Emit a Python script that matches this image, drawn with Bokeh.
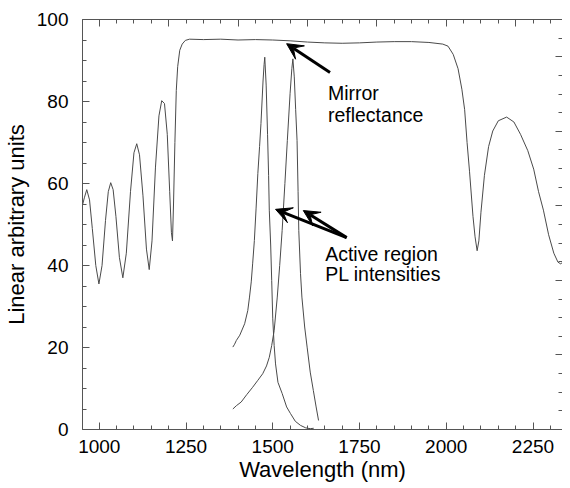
from bokeh.plotting import figure
from bokeh.models import (Range1d, LinearAxis, FixedTicker, Label, Arrow, VeeHead,
                          CustomJSTickFormatter)
from bokeh.embed import file_html
from bokeh.resources import INLINE

# ---- data ----
mirror_nm = [951, 957, 964, 972, 980, 990, 999, 1008, 1018, 1026, 1033, 1040, 1048, 1058,
             1068, 1078, 1090, 1100, 1108, 1116, 1126, 1136, 1144, 1152, 1162, 1172, 1180,
             1188, 1196, 1203, 1208, 1211, 1214, 1218, 1222, 1226, 1232, 1239, 1248, 1260,
             1300, 1350, 1400, 1450, 1500, 1550, 1600, 1650, 1700, 1750, 1800, 1850, 1900,
             1950, 1990, 2005, 2020, 2034, 2045, 2053, 2060, 2067, 2077, 2083, 2089, 2094,
             2100, 2110, 2122, 2134, 2150, 2174, 2195, 2214, 2235, 2252, 2266, 2280, 2295,
             2310, 2322, 2330, 2338, 2346]
mirror_refl = [54.5, 56.5, 58.5, 56.0, 49.0, 40.0, 35.5, 40.0, 51.0, 58.0, 60.2, 58.5, 52.0, 42.0,
               37.0, 43.0, 58.0, 67.5, 69.7, 67.0, 57.0, 44.0, 39.0, 46.0, 64.0, 76.5, 80.2,
               79.5, 72.0, 58.0, 48.0, 46.0, 55.0, 70.0, 82.7, 88.5, 92.5, 94.0, 94.9, 95.2,
               95.1, 95.2, 95.0, 95.1, 95.0, 94.8, 94.5, 94.3, 94.2, 94.3, 94.5, 94.6, 94.6,
               94.4, 94.0, 93.5, 91.5, 88.0, 83.0, 78.0, 70.0, 63.0, 52.0, 47.0, 43.6, 46.0,
               53.0, 62.0, 69.0, 72.8, 75.3, 76.2, 75.0, 72.0, 68.0, 63.5, 58.0, 53.5, 47.5,
               43.0, 40.8, 40.4, 41.0, 42.0]

pl1_nm = [1385, 1390, 1395, 1405, 1419, 1428, 1433, 1438, 1442, 1447, 1452, 1457, 1462, 1466,
          1472, 1475, 1477, 1481, 1485, 1488, 1490, 1494, 1497, 1500, 1504, 1508, 1515, 1527,
          1540, 1551, 1565, 1580, 1595, 1608, 1618]
pl1_val = [20.1, 20.8, 21.7, 23.0, 25.8, 29.0, 32.3, 36.0, 40.4, 46.1, 54.0, 62.4, 69.0, 74.6,
           85.0, 89.0, 90.8, 84.0, 72.0, 62.0, 53.5, 45.0, 36.3, 27.0, 20.5, 16.0, 11.5, 8.8,
           5.5, 3.9, 2.0, 1.0, 0.4, 0.2, 0.3]

pl2_nm = [1385, 1395, 1409, 1425, 1442, 1457, 1471, 1482, 1490, 1497, 1504, 1513, 1520, 1527,
          1535, 1542, 1550, 1555, 1558, 1562, 1566, 1570, 1573, 1575, 1580, 1584, 1592, 1599,
          1608, 1617, 1625, 1632]
pl2_val = [5.0, 5.8, 6.7, 8.5, 10.3, 12.0, 13.6, 15.5, 17.6, 20.5, 24.1, 32.3, 40.0, 48.5,
           60.0, 70.5, 82.0, 88.0, 90.4, 86.0, 78.0, 70.5, 58.0, 48.5, 38.0, 32.3, 25.0, 20.1,
           14.0, 9.5, 5.5, 2.2]

bottom_ticks = [1000, 1250, 1500, 1750, 2000, 2250]
bottom_minor = list(range(950, 2351, 50))
top_ticks = [1000, 1200, 1400, 1600, 1800, 2000, 2200]
top_minor = list(range(950, 2351, 50))
left_ticks = [0, 20, 40, 60, 80, 100]
left_minor = list(range(0, 101, 5))
right_ticks = [0.0, 0.2, 0.4, 0.6, 0.8, 1.0]
right_minor = [i * 0.05 for i in range(0, 23)]

FONT = "Liberation Sans"
AX = "#555555"
LINE = "#4a4a4a"

p = figure(width=562, height=488, output_backend="svg", toolbar_location=None,
           x_range=Range1d(951.7, 2335), y_range=Range1d(0, 100),
           min_border_left=71, min_border_top=19, min_border_bottom=59, min_border_right=0,
           x_axis_label="Wavelength (nm)", y_axis_label="Linear arbitrary units")
p.extra_y_ranges = {"right": Range1d(0, 1.1)}
p.grid.visible = False
p.outline_line_color = None
p.background_fill_color = "white"
p.border_fill_color = "white"


def style(ax, major, minor):
    ax.ticker = FixedTicker(ticks=major, minor_ticks=minor)
    ax.axis_line_color = AX
    ax.axis_line_width = 1
    ax.major_tick_line_color = AX
    ax.minor_tick_line_color = AX
    ax.major_tick_in = 7
    ax.major_tick_out = 0
    ax.minor_tick_in = 4
    ax.minor_tick_out = 0
    ax.major_label_text_font = FONT
    ax.major_label_text_color = "black"
    ax.major_label_text_font_size = "19px"
    ax.axis_label_text_font = FONT
    ax.axis_label_text_font_style = "normal"
    ax.axis_label_text_font_size = "22px"
    ax.axis_label_text_color = "black"


style(p.xaxis[0], bottom_ticks, bottom_minor)
p.xaxis[0].major_label_standoff = 10
p.xaxis[0].axis_label_standoff = 1
style(p.yaxis[0], left_ticks, left_minor)
p.yaxis[0].major_label_standoff = 14
p.yaxis[0].axis_label_standoff = 5

blank = CustomJSTickFormatter(code="return ''")

top = LinearAxis(formatter=blank)
style(top, top_ticks, top_minor)
top.major_label_standoff = 0
top.major_label_text_font_size = "8px"
p.add_layout(top, "above")

right = LinearAxis(y_range_name="right", formatter=blank)
style(right, right_ticks, right_minor)
right.major_label_standoff = 0
right.major_label_text_font_size = "8px"
p.add_layout(right, "right")

p.line(mirror_nm, mirror_refl, line_color=LINE, line_width=1)
p.line(pl1_nm, pl1_val, line_color=LINE, line_width=1)
p.line(pl2_nm, pl2_val, line_color=LINE, line_width=1)

# annotations
for txt, x, y in [("Mirror", 1659, 82.0), ("reflectance", 1659, 76.6),
                  ("Active region", 1651, 42.7), ("PL intensities", 1651, 38.0)]:
    p.add_layout(Label(x=x, y=y, text=txt, text_font=FONT, text_font_size="19.5px",
                       text_color="black", text_baseline="alphabetic"))

for (x0, y0, x1, y1) in [(1665, 87.1, 1540, 94.1), (1713, 46.8, 1508, 53.7),
                         (1713, 46.8, 1588, 53.4)]:
    p.add_layout(Arrow(end=VeeHead(size=16, fill_color="black", line_color="black"),
                       x_start=x0, y_start=y0, x_end=x1, y_end=y1,
                       line_color="black", line_width=3))

open("out.html", "w").write(file_html(p, INLINE))
